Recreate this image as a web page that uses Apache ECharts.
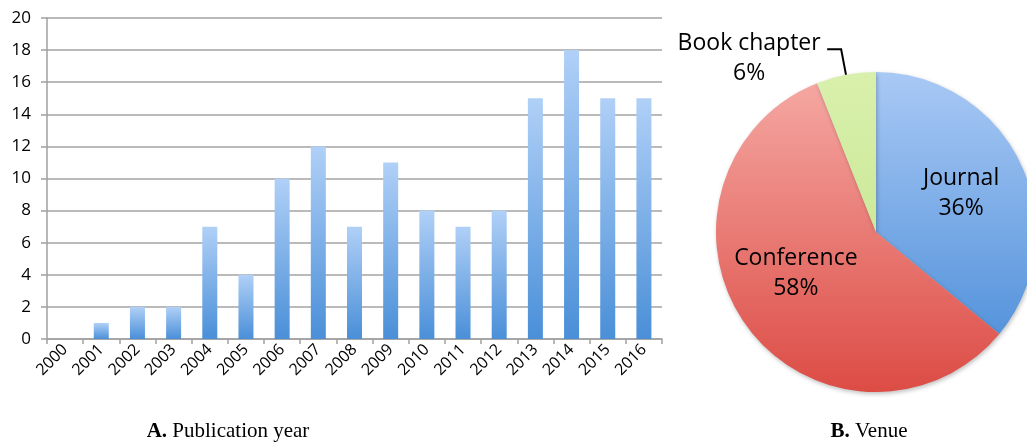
<!DOCTYPE html>
<html>
<head>
<meta charset="utf-8">
<script src="https://cdn.jsdelivr.net/npm/echarts@6/dist/echarts.min.js"></script>
<style>
  html, body { margin: 0; padding: 0; background: #fff; }
  #chart { width: 1027px; height: 444px; }
</style>
</head>
<body>
<div id="chart"></div>
<script>
// publication year counts
const years = ['2000', '2001', '2002', '2003', '2004', '2005', '2006', '2007', '2008',
    '2009', '2010', '2011', '2012', '2013', '2014', '2015', '2016'];
const counts = [0, 1, 2, 2, 7, 4, 10, 12, 7, 11, 8, 7, 8, 15, 18, 15, 15];

// venue share
const venues = ['Journal', 'Conference', 'Book chapter'];
const venueShare = [36, 58, 6];

const font = '"Open Sans", sans-serif';
const serif = '"Liberation Serif", serif';

const myChart = echarts.init(document.getElementById('chart'));

// pie slices get a top-to-bottom gradient (pie spans y 72..392)
const grad = (top, bottom) => new echarts.graphic.LinearGradient(0, 72, 0, 392, [
    { offset: 0, color: top },
    { offset: 1, color: bottom },
], true);
const sliceColors = [
    grad('#a9c9f5', '#4388d6'),
    grad('#f6aaa5', '#dc4c45'),
    grad('#d9f0ac', '#bfe287'),
];

const pieData = venues.map((name, i) => {
    const item = { name: name, value: venueShare[i], itemStyle: { color: sliceColors[i] } };
    if (name === 'Book chapter') {
        item.label = {
            position: 'outside',
            formatter: '{t|{b}}\n{t|{d}%}',
            distance: 6,
            padding: [18, 0, 0, 0],
        };
        item.labelLine = { show: true, length: 26, length2: 14 };
    } else {
        item.label = { position: 'inside', formatter: '{t|{b}}\n{t|{d}%}' };
        item.labelLine = { show: false };
    }
    return item;
});

// small nudges for the inside labels (by data index)
const labelShift = [
    { dx: 10, dy: -3 },
    { dx: -13, dy: -7 },
    {},
];

const captionRich = {
    b: { fontFamily: serif, fontSize: 21, fontWeight: 'bold', color: '#000' },
    n: { fontFamily: serif, fontSize: 21, fontWeight: 'normal', color: '#000' },
};

let option = {
    animation: false,
    title: [
        {
            text: '{b|A.}{n| Publication year}',
            left: 223,
            top: 416,
            textAlign: 'center',
            textStyle: { fontWeight: 'normal', rich: captionRich },
        },
        {
            text: '{b|B.}{n| Venue}',
            left: 864,
            top: 416,
            textAlign: 'center',
            textStyle: { fontWeight: 'normal', rich: captionRich },
        },
    ],
    grid: {
        left: 47,
        right: 365,
        top: 18,
        bottom: 105,
    },
    xAxis: {
        type: 'category',
        data: years,
        axisLine: { show: true, lineStyle: { color: '#a0a0a0', width: 1.5 } },
        axisTick: { show: true, length: 5, lineStyle: { color: '#a0a0a0', width: 1.5 } },
        axisLabel: {
            rotate: 45,
            margin: 8,
            color: '#000',
            fontSize: 16,
            fontFamily: font,
        },
    },
    yAxis: {
        type: 'value',
        min: 0,
        max: 20,
        interval: 2,
        axisLine: { show: true, lineStyle: { color: '#a0a0a0', width: 1.5 } },
        axisTick: { show: true, length: 6, lineStyle: { color: '#a0a0a0', width: 1.5 } },
        splitLine: { lineStyle: { color: '#a3a3a3', width: 1.5 } },
        axisLabel: {
            color: '#000',
            fontSize: 17,
            fontFamily: font,
            margin: 16,
        },
    },
    series: [
        {
            name: 'Publications',
            type: 'bar',
            barWidth: 15,
            data: counts,
            itemStyle: {
                color: new echarts.graphic.LinearGradient(0, 0, 0, 1, [
                    { offset: 0, color: '#b0d0f7' },
                    { offset: 1, color: '#4a8fd8' },
                ]),
            },
        },
        {
            name: 'Venue',
            type: 'pie',
            center: [876, 232],
            radius: [0, 160],
            startAngle: 90,
            clockwise: true,
            label: {
                color: '#000',
                rich: {
                    t: { fontSize: 23, fontFamily: font, color: '#000', lineHeight: 30, align: 'center', width: 146 },
                },
            },
            labelLine: {
                lineStyle: { color: '#000', width: 2 },
                smooth: false,
            },
            labelLayout: function(params) {
                return labelShift[params.dataIndex] || {};
            },
            itemStyle: {
                shadowColor: 'rgba(0,0,0,0.25)',
                shadowBlur: 4,
                shadowOffsetX: 1,
                shadowOffsetY: 2,
            },
            emphasis: { disabled: true },
            data: pieData,
        },
    ],
};

myChart.setOption(option);
window.addEventListener('resize', function() {
    myChart.resize();
});
</script>
</body>
</html>
